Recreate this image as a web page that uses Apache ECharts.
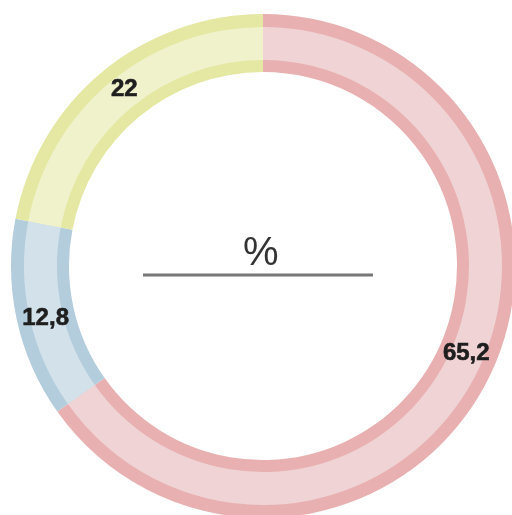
<!DOCTYPE html>
<html>
<head>
<meta charset="utf-8">
<script src="https://cdn.jsdelivr.net/npm/echarts@6/dist/echarts.min.js"></script>
<style>
  html, body { margin: 0; padding: 0; background: #ffffff; }
  #chart { width: 512px; height: 515px; }
</style>
</head>
<body>
<div id="chart"></div>
<script>
// Data
const categories = ['A', 'B', 'C'];
const values = [65.2, 12.8, 22];
const labels = ['65,2', '12,8', '22'];
const darkColors = ['#e8b0b0', '#b3cddd', '#e5e8a2'];
const lightColors = ['#f0d3d5', '#d3e1ea', '#f0f2cb'];
const labelOffsets = [[3, -16], [3, 5], [5, -3]];
const unitLabel = '%';

const chart = echarts.init(document.getElementById('chart'), null, { renderer: 'canvas' });

const darkData = categories.map((c, i) => ({ name: c, value: values[i], itemStyle: { color: darkColors[i] } }));
const lightData = categories.map((c, i) => ({
  name: c, value: values[i],
  itemStyle: { color: lightColors[i] },
  label: { offset: labelOffsets[i] }
}));

const center = [263, 266];

chart.setOption({
  animation: false,
  series: [
    {
      type: 'pie',
      silent: true,
      center: center,
      radius: [194, 252],
      startAngle: 90,
      clockwise: true,
      label: { show: false },
      labelLine: { show: false },
      data: darkData
    },
    {
      type: 'pie',
      silent: true,
      center: center,
      radius: [206, 239],
      startAngle: 90,
      clockwise: true,
      label: {
        show: true,
        position: 'inside',
        formatter: (p) => labels[p.dataIndex],
        fontFamily: '"Liberation Sans"',
        fontWeight: 'bold',
        fontSize: 24,
        color: '#1e1e1e',
        textBorderColor: '#1e1e1e',
        textBorderWidth: 0.6
      },
      labelLine: { show: false },
      data: lightData
    }
  ],
  graphic: [
    {
      type: 'text',
      left: 243,
      top: 234,
      style: {
        text: unitLabel,
        font: '40px "Liberation Sans Narrow", "Liberation Sans"',
        fill: '#333333'
      }
    },
    {
      type: 'line',
      shape: { x1: 143, y1: 275, x2: 373, y2: 275 },
      style: { stroke: '#777777', lineWidth: 3 }
    }
  ]
});
</script>
</body>
</html>
